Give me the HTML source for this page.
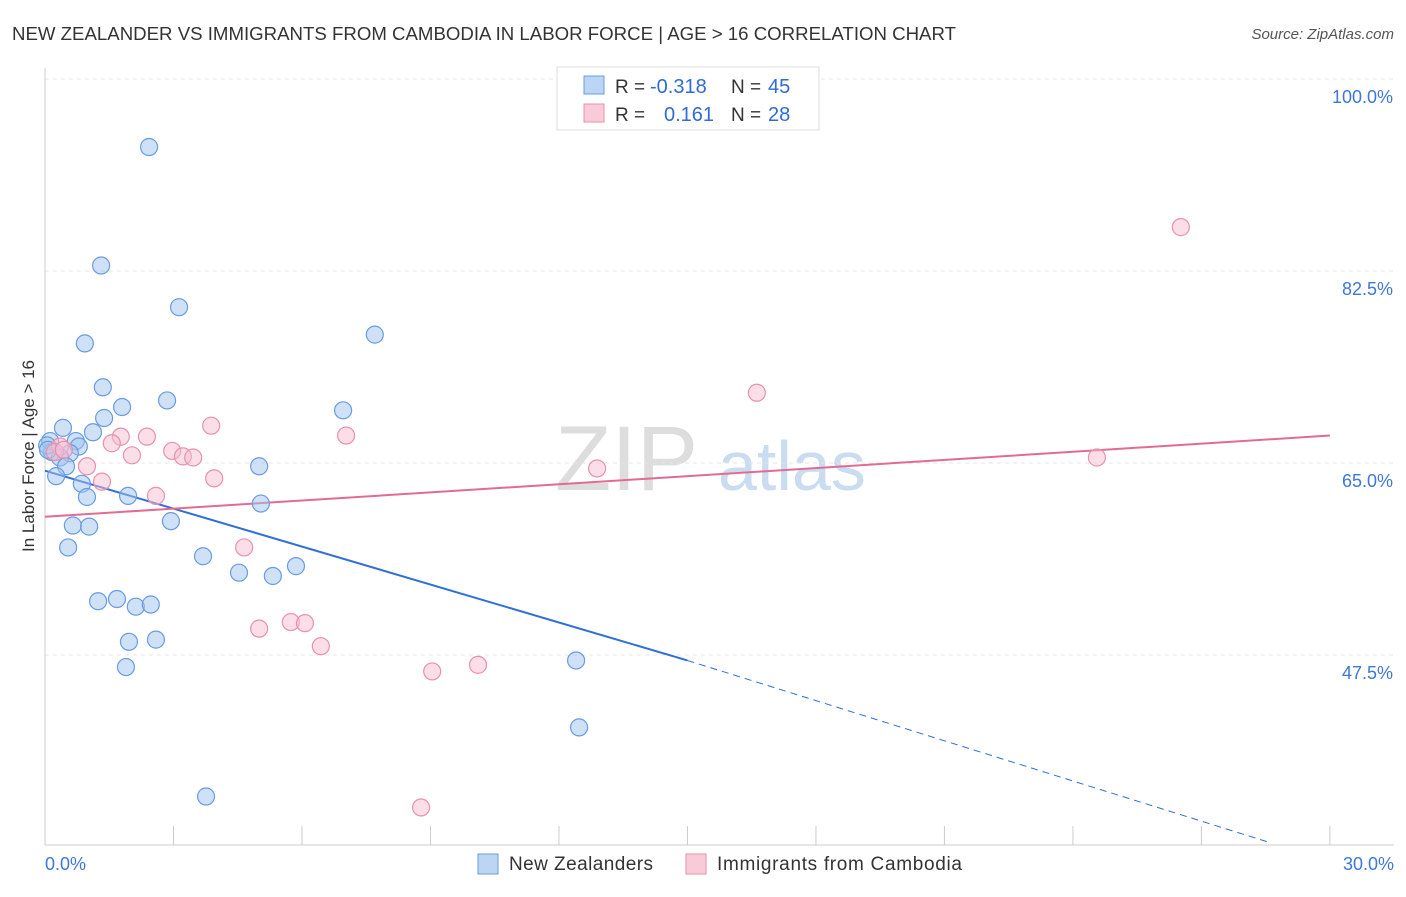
<!DOCTYPE html>
<html><head><meta charset="utf-8"><style>
body{margin:0;background:#fff;font-family:"Liberation Sans",sans-serif;}
svg text{font-family:"Liberation Sans",sans-serif;}
</style></head><body>
<svg id="chart" width="1406" height="892" xmlns="http://www.w3.org/2000/svg">
<text x="12" y="40" font-size="18" fill="#333" textLength="944" lengthAdjust="spacingAndGlyphs">NEW ZEALANDER VS IMMIGRANTS FROM CAMBODIA IN LABOR FORCE | AGE &gt; 16 CORRELATION CHART</text>
<text x="1394" y="39" font-size="15" fill="#555" text-anchor="end" font-style="italic">Source: ZipAtlas.com</text>
<g><text x="555" y="490" font-size="92" fill="#ddd" font-family="Liberation Serif">ZIP</text><text x="718" y="490" font-size="70" fill="#c9dcf0">atlas</text></g>
<g id="grid"></g><g id="axes"></g><g id="lines"></g><g id="pts"></g>
<text transform="translate(34,456) rotate(-90)" font-size="17" fill="#333" text-anchor="middle">In Labor Force | Age &gt; 16</text>
<g>
<rect x="557" y="67" width="262" height="63" fill="#fff" stroke="#ddd"/>
<rect x="584" y="76" width="20" height="18" fill="#bcd5f5" stroke="#6a9be0"/>
<rect x="584" y="104" width="20" height="18" fill="#f9cad8" stroke="#e891ab"/>
<text x="615" y="93" font-size="19" fill="#333">R =</text>
<text x="650" y="93" font-size="20" fill="#2f6bd6">-0.318</text>
<text x="731" y="93" font-size="19" fill="#333">N =</text>
<text x="768" y="93" font-size="20" fill="#2f6bd6">45</text>
<text x="615" y="121" font-size="19" fill="#333">R =</text>
<text x="664" y="121" font-size="20" fill="#2f6bd6">0.161</text>
<text x="731" y="121" font-size="19" fill="#333">N =</text>
<text x="768" y="121" font-size="20" fill="#2f6bd6">28</text>
</g>
<g>
<rect x="478" y="854" width="20" height="20" fill="#bcd5f5" stroke="#6a9be0"/>
<text x="509" y="870" font-size="19" fill="#333" textLength="144">New Zealanders</text>
<rect x="686" y="854" width="20" height="20" fill="#f9cad8" stroke="#e891ab"/>
<text x="717" y="870" font-size="19" fill="#333" textLength="245">Immigrants from Cambodia</text>
</g>
</svg>
<script>
const blueX=[2.43,1.31,3.13,0.93,7.70,1.35,1.80,2.85,6.96,1.38,0.42,1.12,0.72,0.79,0.12,0.16,0.58,0.35,0.49,0.26,5.00,0.86,0.98,1.94,5.04,2.94,0.65,1.03,0.54,3.69,4.53,5.32,5.86,1.24,1.68,2.12,2.47,1.96,2.59,1.89,12.40,12.47,3.76,0.05,0.07];
const blueY=[93.8,83.0,79.2,75.9,76.7,71.9,70.1,70.7,69.8,69.1,68.2,67.8,67.0,66.5,67.0,66.0,65.9,65.5,64.7,63.8,64.7,63.1,61.9,62.0,61.3,59.7,59.3,59.2,57.3,56.5,55.0,54.7,55.6,52.4,52.6,51.9,52.1,48.7,48.9,46.4,47.0,40.9,34.6,66.6,66.2];
const pinkX=[26.52,16.62,3.88,7.03,2.38,1.77,1.56,2.97,3.22,3.46,2.03,0.98,3.95,12.89,24.56,1.33,2.59,4.65,5.00,5.74,6.07,6.44,9.04,10.11,8.78,0.35,0.23,0.44];
const pinkY=[86.5,71.4,68.4,67.5,67.4,67.4,66.8,66.1,65.6,65.5,65.7,64.7,63.6,64.5,65.5,63.3,62.0,57.3,49.9,50.5,50.4,48.3,46.0,46.6,33.6,66.5,66.0,66.2];
const yTicks=[100,82.5,65,47.5];
const yTickLabels=["100.0%","82.5%","65.0%","47.5%"];
const blueTrend=[[0,64.3],[15.0,47.0],[28.6,30.4]];
const pinkTrend=[[0,60.1],[30,67.5]];
const NS="http://www.w3.org/2000/svg";
const X=v=>45+v*42.83, Y=v=>79+(100-v)*10.971;
function mk(tag,attrs,parent){const e=document.createElementNS(NS,tag);for(const k in attrs)e.setAttribute(k,attrs[k]);document.getElementById(parent).appendChild(e);return e;}
yTicks.forEach((t,i)=>{
 const g=mk('line',{x1:45,x2:1394,y1:Y(t),y2:Y(t),stroke:'#e4e4e4','stroke-dasharray':'4,4'},'grid');
 
 
 const l=mk('text',{x:1393,y:Y(t)+24,'font-size':18,fill:'#3f77d6','text-anchor':'end'},'grid');l.textContent=yTickLabels[i];
 
 
});
mk('line',{x1:45,x2:45,y1:68,y2:845,stroke:'#ccc'},'axes');
mk('line',{x1:45,x2:1394,y1:845,y2:845,stroke:'#ccc'},'axes');
for(let i=0;i<=10;i++){const t=mk('line',{x1:X(i*3),x2:X(i*3),y1:826,y2:845,stroke:'#ccc'},'axes');
 
 }
let t0=mk('text',{x:45,y:870,'font-size':18,fill:'#3f77d6'},'axes');t0.textContent='0.0%';


let t1=mk('text',{x:1394,y:870,'font-size':18,fill:'#3f77d6','text-anchor':'end'},'axes');t1.textContent='30.0%';


let bl=mk('line',{x1:X(blueTrend[0][0]),y1:Y(blueTrend[0][1]),x2:X(blueTrend[1][0]),y2:Y(blueTrend[1][1]),stroke:'#2f6fd6','stroke-width':2},'lines');


let bd=mk('line',{x1:X(blueTrend[1][0]),y1:Y(blueTrend[1][1]),x2:X(blueTrend[2][0]),y2:Y(blueTrend[2][1]),stroke:'#2f6fd6','stroke-width':1,'stroke-dasharray':'7,5'},'lines');


let pl=mk('line',{x1:X(pinkTrend[0][0]),y1:Y(pinkTrend[0][1]),x2:X(pinkTrend[1][0]),y2:Y(pinkTrend[1][1]),stroke:'#e36b93','stroke-width':2},'lines');


blueX.forEach((x,i)=>{const c=mk('circle',{cx:X(x),cy:Y(blueY[i]),r:8.5,fill:'rgba(160,195,240,0.5)',stroke:'#6a9be0','stroke-width':1.2},'pts');
 
 });
pinkX.forEach((x,i)=>{const c=mk('circle',{cx:X(x),cy:Y(pinkY[i]),r:8.5,fill:'rgba(248,190,210,0.5)',stroke:'#e891ab','stroke-width':1.2},'pts');
 
 });
</script>
</body></html>
